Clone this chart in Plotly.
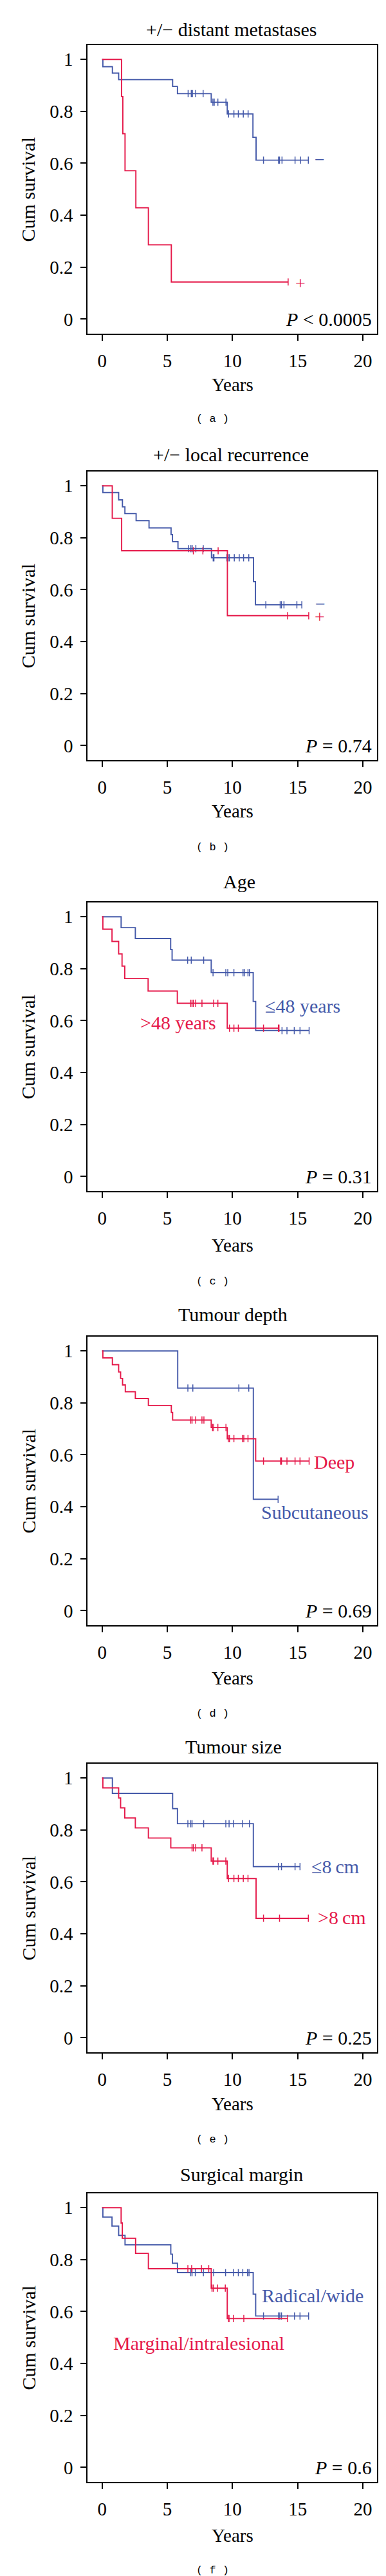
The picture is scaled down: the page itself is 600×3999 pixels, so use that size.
import plotly.graph_objects as go

BLUE = "#4459A9"
RED = "#E5194A"
SERIF = "Liberation Serif"

# ---------------- data (years, cumulative survival) ----------------
# (a) +/- distant metastases
a_blue_t = [0, 0.06, 0.79, 1.27, 5.41, 5.78, 8.37, 9.6, 11.57, 11.81]
a_blue_s = [1, 0.972, 0.947, 0.922, 0.896, 0.868, 0.835, 0.790, 0.700, 0.612]
a_blue_c = [6.6, 6.84, 6.93, 7.18, 7.75, 8.5, 8.6, 8.88, 9.5, 9.7, 10.11, 10.45,
            10.83, 11.2, 12.38, 13.52, 13.61, 13.8, 14.8, 15.22, 15.82]
a_red_t = [0, 1.49, 1.59, 1.76, 2.59, 3.55, 5.31]
a_red_s = [1, 0.857, 0.714, 0.571, 0.429, 0.286, 0.143]
a_red_c = [14.27]

# (b) +/- local recurrence
b_blue_t = [0, 0.06, 1.27, 1.56, 1.75, 2.61, 3.6, 5.29, 5.4, 5.82, 8.39, 11.61, 11.76]
b_blue_s = [1, 0.974, 0.946, 0.919, 0.893, 0.866, 0.838, 0.812, 0.785, 0.758, 0.723, 0.631, 0.542]
b_blue_c = [6.62, 6.81, 6.91, 7.19, 7.76, 8.52, 8.58, 9.57, 9.67, 9.76, 10.14, 10.52,
            10.85, 11.25, 12.56, 13.66, 13.76, 13.95, 14.94, 15.32]
b_red_t = [0, 0.78, 1.5, 9.61]
b_red_s = [1, 0.875, 0.75, 0.5]
b_red_c = [7.0, 7.73, 8.9, 14.23, 15.85]

# (c) Age
c_blue_t = [0, 1.46, 2.55, 5.26, 5.37, 8.37, 11.59, 11.78]
c_blue_s = [1, 0.958, 0.916, 0.874, 0.833, 0.785, 0.674, 0.562]
c_blue_c = [6.56, 6.84, 7.79, 8.51, 9.49, 9.64, 10.11, 10.81, 10.91, 11.19, 11.3,
            13.8, 14.18, 14.74, 15.18, 15.88]
c_red_t = [0, 0.06, 0.76, 1.27, 1.53, 1.74, 3.53, 5.77, 9.6]
c_red_s = [1, 0.952, 0.905, 0.857, 0.810, 0.762, 0.714, 0.667, 0.571]
c_red_c = [6.8, 6.9, 7.0, 7.18, 7.66, 8.56, 8.88, 9.77, 10.11, 10.45, 12.38, 13.52, 13.57]

# (d) Tumour depth
d_blue_t = [0, 5.8, 11.6]
d_blue_s = [1, 0.857, 0.429]
d_blue_c = [6.58, 6.96, 10.49, 11.25, 13.5]
d_red_t = [0, 0.06, 0.79, 1.27, 1.42, 1.57, 1.78, 2.55, 3.55, 5.31, 5.41, 8.37, 9.6, 11.78]
d_red_s = [1, 0.973, 0.947, 0.919, 0.894, 0.869, 0.843, 0.817, 0.790, 0.763, 0.734,
           0.705, 0.662, 0.576]
d_red_c = [6.8, 6.9, 7.18, 7.66, 7.81, 8.47, 8.56, 8.88, 9.5, 9.68, 9.77, 10.11, 10.77,
           10.87, 11.19, 12.38, 13.67, 13.76, 14.18, 14.8, 15.18, 15.88]

# (e) Tumour size
e_blue_t = [0, 0.79, 5.41, 5.78, 11.6]
e_blue_s = [1, 0.941, 0.882, 0.824, 0.659]
e_blue_c = [6.58, 6.8, 6.9, 7.79, 9.49, 9.74, 10.08, 10.78, 11.3, 13.52, 13.76, 14.8, 15.18]
e_red_t = [0, 0.06, 1.27, 1.42, 1.74, 2.55, 3.55, 5.27, 8.37, 9.6, 11.81]
e_red_s = [1, 0.962, 0.923, 0.885, 0.846, 0.808, 0.769, 0.731, 0.680, 0.613, 0.460]
e_red_c = [6.9, 7.0, 7.18, 7.66, 8.5, 8.56, 8.88, 9.49, 9.7, 10.11, 10.45, 10.83, 11.19,
           12.38, 13.61, 15.82]

# (f) Surgical margin
f_blue_t = [0, 0.06, 0.76, 1.27, 1.76, 5.27, 5.39, 5.78, 11.59, 11.78]
f_blue_s = [1, 0.964, 0.929, 0.893, 0.857, 0.821, 0.786, 0.75, 0.667, 0.583]
f_blue_c = [6.8, 6.9, 7.15, 7.77, 8.56, 9.47, 10.08, 10.45, 10.79, 11.15, 11.27, 12.38,
            13.52, 13.63, 13.76, 14.76, 15.18, 15.84]
f_red_t = [0, 1.46, 1.55, 2.57, 3.55, 8.37, 9.6]
f_red_s = [1, 0.941, 0.882, 0.824, 0.765, 0.69, 0.573]
f_red_c = [6.58, 6.87, 7.62, 8.18, 8.43, 8.53, 8.85, 9.45, 9.7, 9.74, 10.08, 10.87, 14.23]

titles = ["+/\u2212 distant metastases", "+/\u2212 local recurrence", "Age",
          "Tumour depth", "Tumour size", "Surgical margin"]
pvalues = ["<i>P</i> < 0.0005", "<i>P</i> = 0.74", "<i>P</i> = 0.31",
           "<i>P</i> = 0.69", "<i>P</i> = 0.25", "<i>P</i> = 0.6"]
sublabels = ["( a )", "( b )", "( c )", "( d )", "( e )", "( f )"]

x_ticks = [0, 5, 10, 15, 20]
y_ticks = [0, 0.2, 0.4, 0.6, 0.8, 1]
y_ticktext = ["0", "0.2", "0.4", "0.6", "0.8", "1"]

# group labels: (panel, text, x, y, colour)
group_labels = [
    (0, "\u2212", 16.71, 0.614, BLUE), (0, "+", 15.23, 0.138, RED),
    (1, "\u2212", 16.73, 0.545, BLUE), (1, "+", 16.71, 0.497, RED),
]
group_labels_left = [
    (2, "\u226448 years", 12.38, 0.657, BLUE), (2, ">48 years", 2.84, 0.592, RED),
    (3, "Deep", 16.16, 0.573, RED), (3, "Subcutaneous", 12.1, 0.38, BLUE),
    (4, "\u22648\u2009cm", 15.94, 0.66, BLUE), (4, ">8\u2009cm", 16.45, 0.463, RED),
    (5, "Radical/wide", 12.15, 0.661, BLUE), (5, "Marginal/intralesional", 0.76, 0.479, RED),
]

panels = [
    (a_blue_t, a_blue_s, a_blue_c, a_red_t, a_red_s, a_red_c),
    (b_blue_t, b_blue_s, b_blue_c, b_red_t, b_red_s, b_red_c),
    (c_blue_t, c_blue_s, c_blue_c, c_red_t, c_red_s, c_red_c),
    (d_blue_t, d_blue_s, d_blue_c, d_red_t, d_red_s, d_red_c),
    (e_blue_t, e_blue_s, e_blue_c, e_red_t, e_red_s, e_red_c),
    (f_blue_t, f_blue_s, f_blue_c, f_red_t, f_red_s, f_red_c),
]

# ---------------- layout geometry (pixels) ----------------
W, H = 600, 3999
PL, PR = 128.3, 578.3
PH = 448
tops = [62, 724, 1393, 2067, 2730, 3397]
title_y = [37, 697.8, 1361, 2032.5, 2703, 3367.3]
title_x = [351, 351, 364, 354, 355, 367]
years_y = [588.7, 1251, 1924.7, 2597.3, 3258, 3928]
sub_y = [643, 1307.6, 1981, 2652.4, 3313, 3982.6]


def py(p):
    return 1 - p / H


def step_value(times, surv, t):
    v = surv[0]
    for ti, si in zip(times, surv):
        if ti <= t:
            v = si
    return v


fig = go.Figure()
annotations = []

for i, (bt, bs, bc, rt, rs, rc) in enumerate(panels):
    ax = "" if i == 0 else str(i + 1)
    xa, ya = "x" + ax, "y" + ax
    for t, s, c, col in ((bt, bs, bc, BLUE), (rt, rs, rc, RED)):
        end = max(c + [t[-1]])
        fig.add_trace(go.Scatter(x=t + [end], y=s + [s[-1]], mode="lines",
                                 line=dict(color=col, width=1.9, shape="hv"),
                                 xaxis=xa, yaxis=ya, showlegend=False, hoverinfo="skip"))
        fig.add_trace(go.Scatter(x=c, y=[step_value(t, s, ci) for ci in c], mode="markers",
                                 marker=dict(symbol="line-ns", size=8, color=col,
                                             line=dict(color=col, width=1.5)),
                                 xaxis=xa, yaxis=ya, showlegend=False, hoverinfo="skip"))
    dom_y = [py(tops[i] + PH), py(tops[i])]
    axis_common = dict(showline=True, mirror=True, linecolor="black", linewidth=2,
                       ticks="outside", ticklen=9, tickwidth=2, tickcolor="black",
                       showgrid=False, zeroline=False,
                       tickfont=dict(family=SERIF, size=29, color="black"))
    fig.layout["xaxis" + ax] = dict(domain=[PL / W, PR / W], anchor=ya, range=[-1.105, 21.1],
                                    tickvals=x_ticks, ticklabelstandoff=6, **axis_common)
    fig.layout["yaxis" + ax] = dict(domain=dom_y, anchor=xa, range=[-0.056, 1.055],
                                    tickvals=y_ticks, ticktext=y_ticktext,
                                    ticklabelstandoff=6, **axis_common)
    # title
    annotations.append(dict(text=titles[i], x=title_x[i] / W, y=py(title_y[i]), xref="paper",
                            yref="paper", showarrow=False, xanchor="center", yanchor="middle",
                            font=dict(family=SERIF, size=30, color="black")))
    annotations.append(dict(text="Years", x=(PL + PR) / 2 / W, y=py(years_y[i]), xref="paper",
                            yref="paper", showarrow=False, xanchor="center", yanchor="middle",
                            font=dict(family=SERIF, size=29, color="black")))
    annotations.append(dict(text="Cum survival", x=35.5 / W, y=py(tops[i] + PH / 2), xref="paper",
                            yref="paper", showarrow=False, textangle=-90, xanchor="center",
                            yanchor="middle", font=dict(family=SERIF, size=30, color="black")))
    annotations.append(dict(text=sublabels[i], x=322 / W, y=py(sub_y[i]), xref="paper",
                            yref="paper", showarrow=False, xanchor="center", yanchor="middle",
                            font=dict(family="Liberation Mono", size=17, color="black")))
    annotations.append(dict(text=pvalues[i], x=0.985, y=0.0, xref=xa + " domain", yref=ya,
                            showarrow=False, xanchor="right", yanchor="middle",
                            font=dict(family=SERIF, size=30, color="black")))

for (pi, txt, x, y, col) in group_labels:
    ax = "" if pi == 0 else str(pi + 1)
    annotations.append(dict(text=txt, x=x, y=y, xref="x" + ax, yref="y" + ax, showarrow=False,
                            xanchor="center", yanchor="middle",
                            font=dict(family=SERIF, size=28, color=col)))
for (pi, txt, x, y, col) in group_labels_left:
    ax = "" if pi == 0 else str(pi + 1)
    annotations.append(dict(text=txt, x=x, y=y, xref="x" + ax, yref="y" + ax, showarrow=False,
                            xanchor="left", yanchor="middle",
                            font=dict(family=SERIF, size=30, color=col)))

fig.update_layout(width=W, height=H, margin=dict(l=0, r=0, t=0, b=0),
                  paper_bgcolor="white", plot_bgcolor="white", annotations=annotations)

fig.write_html("out.html")
